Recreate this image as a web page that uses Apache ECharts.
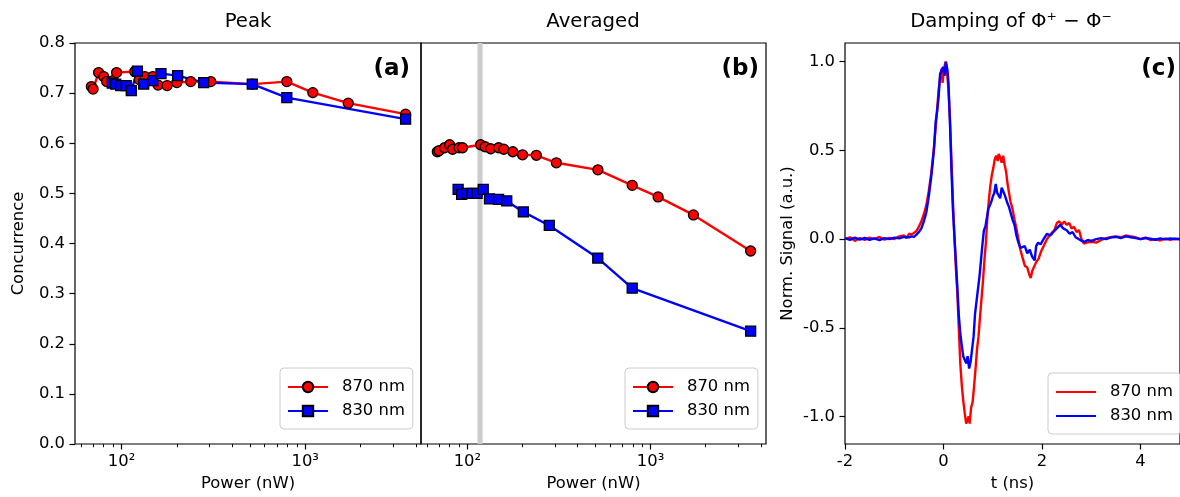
<!DOCTYPE html>
<html><head><meta charset="utf-8">
<script src="https://cdn.jsdelivr.net/npm/echarts@6/dist/echarts.min.js"></script>
<style>html,body{margin:0;padding:0;background:#fff}#c{width:1180px;height:497px}</style>
</head><body><div id="c"></div>
<script>
// ---------- data ----------
const powerRed = [68.5, 70, 75, 80, 83, 90, 94, 118, 125, 134, 148, 158, 177, 200, 238, 306, 516, 794, 1100, 1715, 3520];
const peakRed  = [0.713, 0.708, 0.741, 0.733, 0.723, 0.725, 0.741, 0.743, 0.727, 0.733, 0.733, 0.716, 0.715, 0.721, 0.723, 0.723, 0.718, 0.723, 0.701, 0.680, 0.658];
const avgRed   = [0.583, 0.585, 0.591, 0.597, 0.588, 0.591, 0.591, 0.597, 0.593, 0.589, 0.591, 0.588, 0.583, 0.577, 0.576, 0.561, 0.547, 0.516, 0.493, 0.457, 0.385];

const powerBlue = [89, 93, 99, 106, 113, 122, 132, 148, 164, 202, 280, 515, 794, 3520];
const peakBlue  = [0.720, 0.718, 0.715, 0.715, 0.705, 0.744, 0.718, 0.725, 0.739, 0.735, 0.721, 0.718, 0.691, 0.648];
const avgBlue   = [0.508, 0.498, 0.500, 0.500, 0.500, 0.508, 0.489, 0.488, 0.485, 0.463, 0.436, 0.371, 0.311, 0.225];

const bandPower = [113.5, 121];

const tRed = [-2.0,-1.9,-1.8,-1.7,-1.6,-1.5,-1.4,-1.3,-1.2,-1.1,-1.0,-0.9,-0.8,-0.75,-0.7,-0.65,-0.6,-0.55,-0.5,-0.45,-0.4,-0.35,-0.3,-0.25,-0.2,-0.15,-0.1,-0.07,-0.04,-0.02,0.01,0.04,0.07,0.1,0.13,0.16,0.19,0.22,0.25,0.28,0.31,0.34,0.37,0.4,0.43,0.46,0.49,0.51,0.53,0.56,0.59,0.62,0.65,0.68,0.71,0.74,0.77,0.8,0.83,0.86,0.89,0.92,0.95,0.98,1.01,1.04,1.07,1.1,1.12,1.15,1.18,1.21,1.24,1.27,1.3,1.33,1.36,1.4,1.44,1.48,1.52,1.56,1.6,1.65,1.7,1.74,1.77,1.8,1.84,1.88,1.93,1.98,2.03,2.1,2.18,2.25,2.3,2.35,2.4,2.45,2.5,2.55,2.6,2.65,2.7,2.75,2.8,2.85,2.9,3.0,3.1,3.2,3.3,3.4,3.5,3.6,3.7,3.8,3.9,4.0,4.1,4.2,4.3,4.4,4.5,4.6,4.7,4.8];
const sigRed = [0.0,0.01,-0.01,0.005,-0.005,0.008,0.0,0.012,-0.003,0.006,0.0,0.015,0.02,0.005,0.03,0.025,0.035,0.045,0.07,0.1,0.14,0.19,0.27,0.37,0.5,0.66,0.84,0.91,0.96,0.88,0.96,1.0,0.95,0.84,0.68,0.45,0.22,0.02,-0.16,-0.3,-0.5,-0.7,-0.82,-0.91,-0.98,-1.04,-1.05,-1.0,-1.04,-0.95,-0.92,-0.83,-0.73,-0.62,-0.55,-0.44,-0.34,-0.24,-0.12,-0.02,0.12,0.22,0.3,0.36,0.4,0.45,0.47,0.44,0.48,0.46,0.43,0.47,0.42,0.38,0.31,0.26,0.21,0.17,0.11,0.06,0.0,-0.06,-0.1,-0.15,-0.16,-0.2,-0.22,-0.18,-0.17,-0.13,-0.11,-0.07,-0.04,0.0,0.03,0.05,0.09,0.1,0.08,0.1,0.08,0.09,0.06,0.07,0.04,0.05,0.0,-0.025,-0.02,-0.015,-0.02,-0.005,0.005,0.01,0.015,0.01,0.02,0.015,0.01,0.0,0.008,-0.005,0.0,-0.008,0.003,-0.004,0.002,-0.003];

const tBlue = [-2.0,-1.9,-1.8,-1.7,-1.6,-1.5,-1.4,-1.3,-1.2,-1.1,-1.0,-0.9,-0.8,-0.7,-0.65,-0.6,-0.55,-0.5,-0.45,-0.4,-0.35,-0.3,-0.25,-0.22,-0.19,-0.16,-0.13,-0.1,-0.07,-0.04,-0.01,0.02,0.05,0.08,0.1,0.13,0.16,0.19,0.22,0.25,0.28,0.31,0.34,0.37,0.4,0.43,0.46,0.49,0.52,0.55,0.58,0.61,0.64,0.67,0.7,0.73,0.76,0.79,0.82,0.85,0.88,0.91,0.94,0.97,1.0,1.03,1.06,1.09,1.12,1.15,1.18,1.21,1.24,1.27,1.3,1.33,1.36,1.4,1.44,1.48,1.52,1.56,1.6,1.65,1.7,1.75,1.8,1.85,1.88,1.92,1.97,2.03,2.1,2.17,2.23,2.3,2.37,2.43,2.5,2.56,2.62,2.68,2.74,2.8,2.86,2.93,3.0,3.1,3.2,3.3,3.4,3.5,3.6,3.7,3.8,3.9,4.0,4.1,4.2,4.3,4.4,4.5,4.6,4.7,4.8];
const sigBlue = [0.005,-0.005,0.008,-0.003,0.006,-0.004,0.004,-0.006,0.005,0.0,0.008,0.004,0.012,0.01,0.015,0.012,0.025,0.04,0.06,0.1,0.15,0.24,0.35,0.43,0.52,0.66,0.72,0.8,0.93,0.95,0.97,0.92,1.0,0.95,0.88,0.66,0.4,0.17,0.02,-0.12,-0.27,-0.43,-0.53,-0.6,-0.66,-0.68,-0.7,-0.66,-0.73,-0.69,-0.62,-0.55,-0.42,-0.35,-0.28,-0.21,-0.12,-0.03,0.05,0.07,0.12,0.17,0.19,0.21,0.24,0.26,0.31,0.26,0.27,0.23,0.29,0.3,0.25,0.24,0.2,0.18,0.15,0.11,0.08,0.02,-0.02,-0.05,-0.06,-0.04,-0.08,-0.06,-0.1,-0.12,-0.04,-0.02,-0.03,0.0,0.03,0.02,0.04,0.06,0.08,0.06,0.05,0.03,0.04,0.01,0.0,-0.01,-0.015,-0.005,-0.01,0.0,0.005,0.0,0.01,0.012,0.005,0.015,0.01,0.005,0.0,0.006,0.002,-0.004,0.004,-0.002,0.003,0.0,0.002];

const powerMajor = [100, 1000];
const powerMinor = [60, 70, 80, 90, 200, 300, 400, 500, 600, 700, 800, 900, 2000, 3000, 4000];
const concTicks = [0, 0.1, 0.2, 0.3, 0.4, 0.5, 0.6, 0.7, 0.8];
const tTicks = [-2, 0, 2, 4];
const sigTicks = [-1, -0.5, 0, 0.5, 1];
const powerLabels = {100: '10²', 1000: '10³'};

// ---------- styling ----------
const FONT = "'DejaVu Sans'";
const FS = 16.4;
const RED = '#ff0000', BLUE = '#0000ff';
const zip = (a, b) => a.map((v, i) => [v, b[i]]);
const txt = {color: '#000', fontSize: FS, fontFamily: FONT};
const noLine = {show: false, onZero: false};

function logAxes(gi) {
  const base = {type: 'log', logBase: 10, gridIndex: gi, min: 55.8, max: 4270, position: 'bottom',
    axisLine: noLine, splitLine: {show: false}};
  return [
    Object.assign({}, base, {
      axisTick: {customValues: powerMajor, length: 5.5, lineStyle: {color: '#000', width: 1.2}},
      axisLabel: Object.assign({customValues: powerMajor, margin: 10,
        formatter: v => powerLabels[Math.round(v)] || ''}, txt),
      name: 'Power (nW)', nameLocation: 'middle', nameGap: 32, nameTextStyle: txt
    }),
    Object.assign({}, base, {
      axisTick: {customValues: powerMinor, length: 3.2, lineStyle: {color: '#000', width: 1}},
      axisLabel: {show: false}
    })
  ];
}

const markerSeries = (name, xi, yi, xs, ys, color, sym) => ({
  type: 'line', name, xAxisIndex: xi, yAxisIndex: yi, data: zip(xs, ys),
  symbol: sym, symbolSize: 10, showSymbol: true, z: 3,
  lineStyle: {color, width: 2.4},
  itemStyle: {color, borderColor: '#000', borderWidth: 1.3},
  emphasis: {disabled: true}
});

const legendBase = {
  orient: 'vertical', selectedMode: false, itemWidth: 40, itemHeight: 13, itemGap: 8,
  padding: [11, 8, 10, 7], backgroundColor: 'rgba(255,255,255,0.8)',
  borderColor: '#cccccc', borderWidth: 1, borderRadius: 4,
  textStyle: Object.assign({padding: [0, 0, 0, 9]}, txt)
};

const option = {
  animation: false,
  backgroundColor: '#fff',
  grid: [
    {left: 75, top: 43, width: 346, height: 401, show: true, borderColor: '#000', borderWidth: 1.2, backgroundColor: 'transparent'},
    {left: 421, top: 43, width: 345, height: 401, show: true, borderColor: '#000', borderWidth: 1.2, backgroundColor: 'transparent'},
    {left: 845, top: 43, width: 337, height: 401, show: true, borderColor: '#000', borderWidth: 1.2, backgroundColor: 'transparent'}
  ],
  xAxis: [
    ...logAxes(0),
    ...logAxes(1),
    {type: 'value', gridIndex: 2, min: -2, max: 4.8, position: 'bottom',
      axisLine: noLine, splitLine: {show: false},
      axisTick: {customValues: tTicks, length: 5.5, lineStyle: {color: '#000', width: 1.2}},
      axisLabel: Object.assign({customValues: tTicks, margin: 10, formatter: v => String(v)}, txt),
      name: 't (ns)', nameLocation: 'middle', nameGap: 32, nameTextStyle: txt}
  ],
  yAxis: [
    {type: 'value', gridIndex: 0, min: 0, max: 0.8, position: 'left',
      axisLine: noLine, splitLine: {show: false},
      axisTick: {customValues: concTicks, length: 5.5, lineStyle: {color: '#000', width: 1.2}},
      axisLabel: Object.assign({customValues: concTicks, margin: 10, formatter: v => v.toFixed(1)}, txt),
      name: 'Concurrence', nameLocation: 'middle', nameGap: 48, nameTextStyle: txt},
    {type: 'value', gridIndex: 1, min: 0, max: 0.8, position: 'left',
      axisLine: noLine, splitLine: {show: false}, axisTick: {show: false}, axisLabel: {show: false}},
    {type: 'value', gridIndex: 2, min: -1.155, max: 1.105, position: 'left',
      axisLine: noLine, splitLine: {show: false},
      axisTick: {customValues: sigTicks, length: 5.5, lineStyle: {color: '#000', width: 1.2}},
      axisLabel: Object.assign({customValues: sigTicks, margin: 10, formatter: v => v.toFixed(1)}, txt),
      name: 'Norm. Signal (a.u.)', nameLocation: 'middle', nameGap: 49, nameTextStyle: txt}
  ],
  legend: [
    Object.assign({}, legendBase, {data: ['870 nm', '830 nm'], left: 280, top: 368}),
    Object.assign({}, legendBase, {data: ['870 nm', '830 nm'], left: 625, top: 368}),
    Object.assign({}, legendBase, {
      data: [{name: '870 nm (c)', itemStyle: {opacity: 0}}, {name: '830 nm (c)', itemStyle: {opacity: 0}}],
      left: 1048, top: 373, itemStyle: {opacity: 0},
      formatter: n => n.replace(' (c)', '')})
  ],
  series: [
    markerSeries('870 nm', 0, 0, powerRed, peakRed, RED, 'circle'),
    markerSeries('830 nm', 0, 0, powerBlue, peakBlue, BLUE, 'rect'),
    {type: 'line', name: 'band', xAxisIndex: 2, yAxisIndex: 1, data: [], z: 1, silent: true,
      markArea: {silent: true, itemStyle: {color: '#cccccc'},
        data: [[{xAxis: bandPower[0]}, {xAxis: bandPower[1]}]]}},
    markerSeries('870 nm', 2, 1, powerRed, avgRed, RED, 'circle'),
    markerSeries('830 nm', 2, 1, powerBlue, avgBlue, BLUE, 'rect'),
    {type: 'line', name: '870 nm (c)', xAxisIndex: 4, yAxisIndex: 2, data: zip(tRed, sigRed),
      symbol: 'none', lineStyle: {color: RED, width: 2.4}, itemStyle: {color: RED}, z: 3},
    {type: 'line', name: '830 nm (c)', xAxisIndex: 4, yAxisIndex: 2, data: zip(tBlue, sigBlue),
      symbol: 'none', lineStyle: {color: BLUE, width: 2.4}, itemStyle: {color: BLUE}, z: 4}
  ],
  graphic: [
    {type: 'text', x: 248, y: 22, style: {text: 'Peak', font: "19.7px " + FONT, fill: '#000', align: 'center', verticalAlign: 'middle'}},
    {type: 'text', x: 593, y: 22, style: {text: 'Averaged', font: "19.7px " + FONT, fill: '#000', align: 'center', verticalAlign: 'middle'}},
    {type: 'text', x: 1011, y: 22, style: {text: 'Damping of Φ⁺ − Φ⁻', font: "19.7px " + FONT, fill: '#000', align: 'center', verticalAlign: 'middle'}},
    {type: 'text', x: 410, y: 69, style: {text: '(a)', font: "bold 23px " + FONT, fill: '#000', align: 'right', verticalAlign: 'middle'}},
    {type: 'text', x: 759, y: 69, style: {text: '(b)', font: "bold 23px " + FONT, fill: '#000', align: 'right', verticalAlign: 'middle'}},
    {type: 'text', x: 1176, y: 69, style: {text: '(c)', font: "bold 23px " + FONT, fill: '#000', align: 'right', verticalAlign: 'middle'}}
  ]
};

const chart = echarts.init(document.getElementById('c'), null, {renderer: 'canvas'});
chart.setOption(option);
</script>
</body></html>
